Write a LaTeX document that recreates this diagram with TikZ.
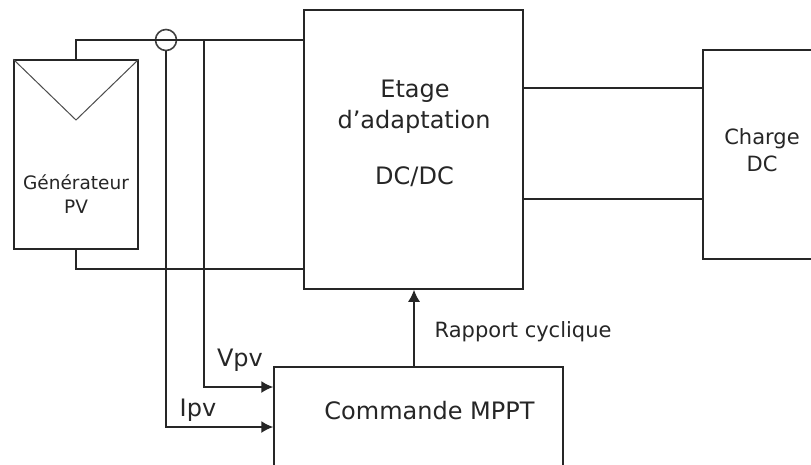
\documentclass[tikz,border=0pt]{standalone}
\usepackage{fontspec}
\setmainfont{DejaVu Sans}
\usetikzlibrary{arrows.meta,calc}
\tikzset{
  x=1pt,y=-1pt,
  wire/.style={line width=1.5pt,color=black!85},
  thinwire/.style={line width=1pt,color=black!70},
  feed/.style={wire,-{Latex[length=12pt,width=12pt]}},
  blockbox/.style={draw=black!85,line width=1.5pt,rectangle,inner sep=0pt,fill=white},
  lbl/.style={inner sep=0pt,text=black!85,align=center},
  big/.style={font=\fontsize{24pt}{28pt}\selectfont},
  mid/.style={font=\fontsize{21pt}{25pt}\selectfont},
  small/.style={font=\fontsize{18.5pt}{22pt}\selectfont}
}
\begin{document}
\begin{tikzpicture}
\useasboundingbox (0,0) rectangle (811,464);
\clip (0,0) rectangle (811,464);
\fill[white] (0,0) rectangle (811,464);
% blocks
\node[blockbox,minimum width=124pt,minimum height=189pt] (pv) at (76,154.5) {};
\node[blockbox,minimum width=219pt,minimum height=279pt] (etage) at (413.5,149.5) {};
\node[blockbox,minimum width=130pt,minimum height=209pt] (charge) at (768,154.5) {};
\node[blockbox,minimum width=289pt,minimum height=120pt] (mppt) at (418.5,427) {};
% sensor circle
\node[draw=black!75,line width=1.6pt,circle,minimum size=21pt,inner sep=0pt] (sensor) at (166,40) {};
% free ends and junctions
\coordinate (pvtop) at (76,40);
\coordinate (pvbot) at (76,269);
\coordinate (vtap) at (204,40);
\coordinate (vcorner) at (204,387);
\coordinate (icorner) at (166,427);
% power wires
\draw[wire] (pv.north) -- (pvtop) -- (sensor.center) -- (etage.west |- sensor.center);
\draw[wire] (pv.south) -- (pvbot) -- (etage.west |- pvbot);
\draw[wire] (etage.east |- 0,88) -- (charge.west |- 0,88);
\draw[wire] (etage.east |- 0,199) -- (charge.west |- 0,199);
% measurements
\draw[feed] (vtap) -- (vcorner) -- (mppt.west |- vcorner);
\draw[feed] (sensor.south) -- (icorner) -- (mppt.west |- icorner);
\draw[feed] (mppt.north -| 414,0) -- (etage.south -| 414,0);
% PV symbol
\coordinate (vee) at (76,120);
\draw[thinwire] (pv.north west) -- (vee) -- (pv.north east);
% labels
\node[lbl,small] (t1) at (76,182) {Générateur};
\node[lbl,small] (t2) at (76,207) {PV};
\node[lbl,big] (t3) at (415,91) {Etage};
\node[lbl,big] (t4) at (414,122) {d’adaptation};
\node[lbl,big] (t5) at (414.5,177) {DC/DC};
\node[lbl,mid] (t6) at (762,139) {Charge};
\node[lbl,mid] (t7) at (762,164) {DC};
\node[lbl,big] (t8) at (429.5,411) {Commande MPPT};
\node[lbl,big] (t9) at (240,360) {Vpv};
\node[lbl,big] (t10) at (198,410) {Ipv};
\node[lbl,mid,anchor=west] (t11) at (434.5,332) {Rapport cyclique};
\end{tikzpicture}
\end{document}
